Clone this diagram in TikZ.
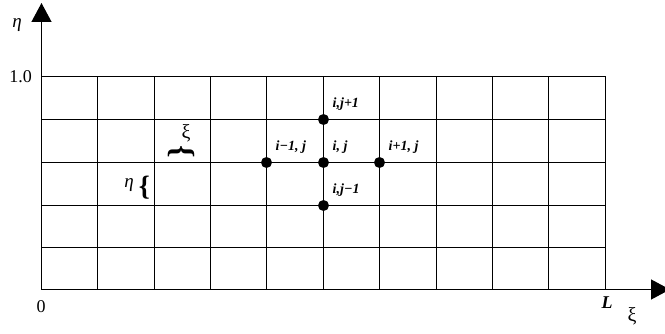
\documentclass[tikz,border=0pt]{standalone}
\usepackage{fontspec}
\setmainfont{Liberation Serif}
\usetikzlibrary{arrows.meta,positioning}

\begin{document}
\begin{tikzpicture}[x=1pt,y=1pt,
  cizgi/.style={line width=1.3pt},
  eksen/.style={line width=1.3pt,-{Triangle[length=19pt,width=20pt]}},
  nokta/.style={circle,fill=black,inner sep=0pt,minimum size=11pt},
  indis/.style={inner sep=0pt,font=\fontsize{14}{16}\selectfont\bfseries\itshape},
  yazi/.style={inner sep=0pt,font=\fontsize{18}{20}\selectfont}]
\useasboundingbox (0,0) rectangle (665,333);
% ag: 10 x 5 hucre
\foreach \x in {41.5,97.5,154.5,210.5,266.5,323.5,379.5,436.5,492.5,548.5,605.5}
  \draw[cizgi] (\x,43.5) -- (\x,256.5);
\foreach \y in {43.5,85.5,127.5,170.5,213.5,256.5}
  \draw[cizgi] (41.5,\y) -- (605.5,\y);
% eksenler
\coordinate (O) at (41.5,43.5);
\coordinate (yUc) at (41.5,330);
\coordinate (xUc) at (670,43.5);
\draw[eksen] (O) -- (yUc);
\draw[eksen] (O) -- (xUc);
\node[yazi,font=\fontsize{19}{21}\selectfont\itshape] (etaEk) at (17,308) {η};
\node[yazi,anchor=east] (bir) at (32,256) {1.0};
\node[yazi] (sifir) at (41,26) {0};
\node[yazi,font=\fontsize{18}{20}\selectfont\bfseries\itshape] (Lboy) at (607,30) {L};
\node[yazi,font=\fontsize{20}{22}\selectfont] (xiEk) at (632,17) {ξ};
% hucre boyutlari
\node[yazi,font=\fontsize{19}{21}\selectfont\itshape] (etaH) at (129,148) {η};
\node[yazi,font=\fontsize{28}{30}\selectfont\bfseries] (parDik) at (144.5,145.5) {\{};
\node[yazi,font=\fontsize{20}{22}\selectfont] (xiH) at (186,200) {ξ};
\node[yazi,font=\fontsize{32}{34}\selectfont\bfseries,rotate=-90] (parYat) at (181.5,181.5) {\{};
% bes nokta kalibi
\node[nokta] (c) at (323.5,170.5) {};
\node[nokta] (w) at (266.5,170.5) {};
\node[nokta] (e) at (379.5,170.5) {};
\node[nokta] (n) at (323.5,213.5) {};
\node[nokta] (s) at (323.5,127.5) {};
\node[indis,above right=5pt and 5pt of c] (lc) {i, j};
\node[indis,above right=5pt and 5pt of w] (lw) {i−1, j};
\node[indis,above right=5pt and 5pt of e] (le) {i+1, j};
\node[indis,above right=5pt and 5pt of n] (ln) {i,j+1};
\node[indis,above right=5pt and 5pt of s] (ls) {i,j−1};
\end{tikzpicture}
\end{document}
